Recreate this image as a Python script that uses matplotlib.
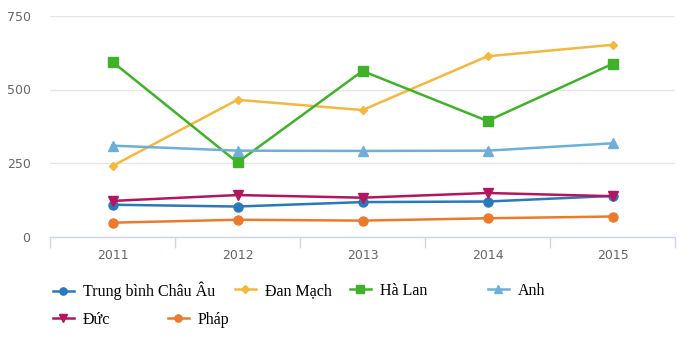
import matplotlib
matplotlib.use("Agg")
import matplotlib.pyplot as plt

# du lieu doc tu bieu do
years = ["2011", "2012", "2013", "2014", "2015"]
trung_binh = [108, 102, 117, 119, 138]
dan_mach = [240, 465, 430, 613, 652]
ha_lan = [594, 252, 563, 393, 587]
anh = [309, 292, 291, 292, 317]
duc = [121, 141, 132, 148, 137]
phap = [47, 57, 54, 62, 68]

series = [
    ("Trung bình Châu Âu", trung_binh, "#2a7ab9", "o", 6.5),
    ("Đan Mạch", dan_mach, "#f5b73d", "D", 4.5),
    ("Hà Lan", ha_lan, "#3fb22a", "s", 7),
    ("Anh", anh, "#6cb0d9", "^", 7),
    ("Đức", duc, "#b3165e", "v", 7),
    ("Pháp", phap, "#ec7a2c", "o", 6.5),
]

# vi tri chu thich (pixel) - moi muc rieng vi khoang cach khong deu
legend_pos = [(53, 291), (235, 291), (350, 291), (488, 291), (53, 320), (168, 320)]

W, H = 689, 349
fig = plt.figure(figsize=(W / 100, H / 100), dpi=100)
ax = fig.add_axes([50 / W, 1 - 236.5 / H, 625 / W, 220.5 / H])

x = list(range(len(years)))
lines = []
for name, vals, color, marker, ms in series:
    ln, = ax.plot(x, vals, color=color, lw=1.8, marker=marker, markersize=ms,
                  label=name, zorder=3)
    lines.append(ln)

ax.set_xlim(-0.5, len(years) - 0.5)
ax.set_ylim(0, 750)
ax.set_yticks([0, 250, 500, 750])
ax.set_xticks(x)
ax.set_xticklabels(years)
ax.set_xticks([i - 0.5 for i in range(len(years) + 1)], minor=True)
ax.tick_params(axis="x", which="major", length=0, pad=9, labelsize=9, labelcolor="#666666")
ax.tick_params(axis="x", which="minor", length=8, width=1, color="#ccd6eb")
ax.tick_params(axis="y", length=0, pad=14, labelsize=9, labelcolor="#666666")

ax.grid(axis="y", color="#e6e6e6", lw=1, zorder=0)
for side in ["left", "right", "top"]:
    ax.spines[side].set_visible(False)
ax.spines["bottom"].set_color("#ccd6eb")
ax.spines["bottom"].set_linewidth(1)

for ln, (px, py) in zip(lines, legend_pos):
    fig.legend(handles=[ln], labels=[ln.get_label()], loc="center left",
               bbox_to_anchor=(px / W, 1 - py / H), frameon=False,
               borderpad=0, borderaxespad=0, handlelength=1.3, handletextpad=0.55,
               markerscale=0.8, prop={"family": "Liberation Serif", "size": 11.5})

fig.savefig("out.png", dpi=100)
